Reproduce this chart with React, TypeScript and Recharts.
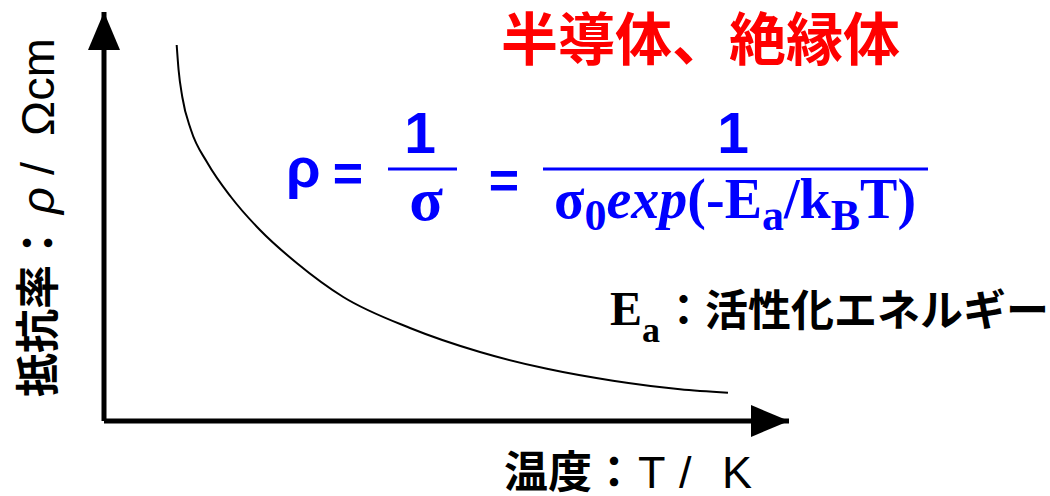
import { LineChart, Line, XAxis, YAxis } from 'recharts'

// resistivity vs temperature, arbitrary units
const temperature = [10.61, 10.89, 11.43, 12.7, 15.11, 18.54, 22.77, 28.13, 34.93, 44.67, 54.89, 64.67, 74.31, 84.09, 91.09]
const resistivity = [91.93, 85.82, 79.22, 71.15, 63.08, 54.77, 46.7, 38.63, 30.32, 22.74, 16.87, 12.76, 9.85, 7.78, 6.92]

const title = '半導体、絶縁体'
const xLabelJa = '温度：'
const yLabelJa = '抵抗率：'
const eaNote = '：活性化エネルギー'

const BLUE = '#0000ff'
const RED = '#ff0000'
const SANS = '"Liberation Sans", Arial, Helvetica, sans-serif'
const SERIF = '"Liberation Serif", "Times New Roman", serif'
const JP = '"Noto Sans CJK JP", "Noto Sans CJK SC", sans-serif'

const data = temperature.map((t, i) => ({ t, rho: resistivity[i] }))

function Overlay() {
  return (
    <svg
      width={1050}
      height={496}
      style={{ position: 'absolute', left: 0, top: 0, pointerEvents: 'none', overflow: 'visible' }}
    >
      <defs>
        <marker
          id="arrowHead"
          markerUnits="userSpaceOnUse"
          markerWidth={38}
          markerHeight={32}
          viewBox="0 0 38 32"
          refX={38}
          refY={16}
          orient="auto-start-reverse"
        >
          <path d="M0,0 L38,16 L0,32 Z" fill="#000" />
        </marker>
      </defs>

      {/* title */}
      <text x={501} y={60} fontFamily={JP} fontWeight={700} fontSize={57} fill={RED}>
        {title}
      </text>

      {/* formula */}
      <g fill={BLUE} fontWeight={700}>
        <text x={286} y={187} fontFamily={SANS} fontSize={56}>ρ</text>
        <text x={348} y={191} fontFamily={SANS} fontSize={52} textAnchor="middle">=</text>
        <text x={420} y={153} fontFamily={SANS} fontSize={57} textAnchor="middle">1</text>
        <line x1={388} x2={457} y1={169} y2={169} stroke={BLUE} strokeWidth={3} />
        <text x={426} y={220} fontFamily={SERIF} fontSize={62} textAnchor="middle">σ</text>
        <text x={504} y={198} fontFamily={SANS} fontSize={52} textAnchor="middle">=</text>
        <line x1={543} x2={928} y1={169} y2={169} stroke={BLUE} strokeWidth={3} />
        <text x={733} y={153} fontFamily={SANS} fontSize={57} textAnchor="middle">1</text>
        <text x={554} y={218} fontFamily={SERIF} fontSize={56}>
          σ
          <tspan fontSize={44} dy={12}>0</tspan>
          <tspan dy={-12} fontStyle="italic">exp</tspan>
          <tspan>(-E</tspan>
          <tspan fontSize={44} dy={12}>a</tspan>
          <tspan dy={-12}>/k</tspan>
          <tspan fontSize={44} dy={12}>B</tspan>
          <tspan dy={-12}>T)</tspan>
        </text>
      </g>

      {/* Ea note */}
      <text x={610} y={325} fill="#000">
        <tspan fontFamily={SERIF} fontWeight={700} fontSize={48}>E</tspan>
        <tspan fontFamily={SERIF} fontWeight={700} fontSize={36} dy={17}>a</tspan>
        <tspan fontFamily={JP} fontWeight={700} fontSize={43} dy={-16} dx={2}>{eaNote}</tspan>
      </text>

      {/* x axis title */}
      <text x={504} y={488} fill="#000">
        <tspan fontFamily={JP} fontWeight={700} fontSize={44}>{xLabelJa}</tspan>
      </text>
      <text x={638} y={488} fontFamily={SANS} fontSize={45} fill="#000">T</text>
      <text x={679} y={488} fontFamily={SANS} fontSize={45} fill="#000">/</text>
      <text x={722} y={488} fontFamily={SANS} fontSize={45} fill="#000">K</text>

      {/* y axis title */}
      <g transform="translate(54, 397) rotate(-90)" fill="#000">
        <text x={0} y={0} fontFamily={JP} fontWeight={700} fontSize={44}>{yLabelJa}</text>
        <text x={183} y={0} fontFamily={SANS} fontSize={47} fontStyle="italic">ρ</text>
        <text x={222} y={0} fontFamily={SANS} fontSize={47}>/</text>
        <text x={261} y={0} fontFamily={SANS} fontSize={47}>Ωcm</text>
      </g>
    </svg>
  )
}

export default function App() {
  return (
    <div style={{ position: 'relative', width: 1050, height: 496, background: '#fff' }}>
      <style>{'body{margin:0}'}</style>
      <LineChart
        width={1050}
        height={496}
        data={data}
        margin={{ top: 12, right: 261, bottom: 45, left: 44 }}
      >
        <XAxis
          dataKey="t"
          type="number"
          domain={[0, 100]}
          height={30}
          tick={false}
          tickLine={false}
          axisLine={{ stroke: '#000', strokeWidth: 5, markerEnd: 'url(#arrowHead)' }}
        />
        <YAxis
          type="number"
          domain={[0, 100]}
          width={60}
          tick={false}
          tickLine={false}
          axisLine={{ stroke: '#000', strokeWidth: 5, markerStart: 'url(#arrowHead)' }}
        />
        <Line
          type="monotone"
          dataKey="rho"
          stroke="#000"
          strokeWidth={2}
          dot={false}
          isAnimationActive={false}
        />
      </LineChart>
      <Overlay />
    </div>
  )
}
